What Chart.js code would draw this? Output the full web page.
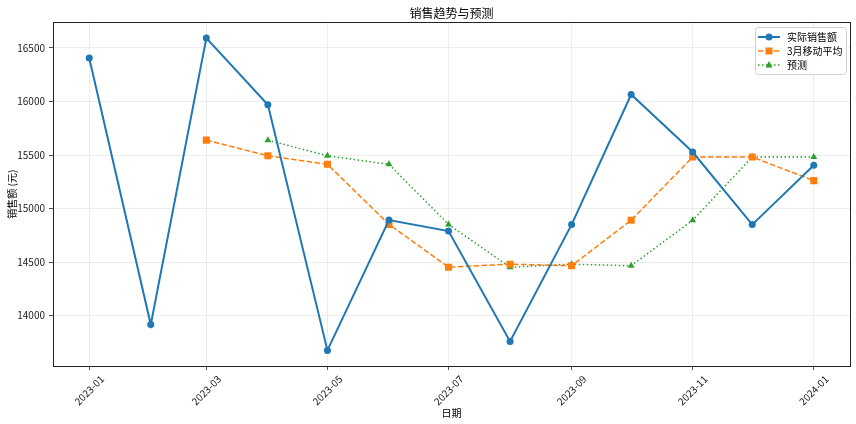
<!DOCTYPE html>
<html>
<head>
<meta charset="utf-8">
<script src="https://cdn.jsdelivr.net/npm/chart.js@4"></script>
<style>
  body { margin: 0; background: #fff; }
</style>
</head>
<body>
<canvas id="chart" width="856" height="424"></canvas>
<script>
let months = ['2023-01', '2023-02', '2023-03', '2023-04', '2023-05', '2023-06', '2023-07',
	'2023-08', '2023-09', '2023-10', '2023-11', '2023-12', '2024-01'];
let actualSales = [16407, 13916, 16593, 15970, 13675, 14892, 14790, 13758, 14850, 16065, 15528, 14850, 15405];
let movingAvg = [null, null, 15639, 15493, 15413, 14852, 14452, 14480, 14466, 14891, 15481, 15481, 15261];
let forecast = [null, null, null, 15639, 15493, 15413, 14852, 14452, 14480, 14466, 14891, 15481, 15481];
let xTickLabels = ['2023-01', '2023-03', '2023-05', '2023-07', '2023-09', '2023-11', '2024-01'];
let yTickValues = [14000, 14500, 15000, 15500, 16000, 16500];

const FONT = '"Noto Sans CJK SC", "DejaVu Sans", sans-serif';
const DAY = 86400000;
let start = Date.UTC(2023, 0, 1);
// month label -> days since 2023-01-01 (dates are real time on the x axis)
let toDays = (m) => {
	let [y, mo] = m.split('-').map(Number);
	return (Date.UTC(y, mo - 1, 1) - start) / DAY;
};
let series = (vals) => vals.map((v, i) => ({ x: toDays(months[i]), y: v }));
let span = toDays(months[months.length - 1]) - toDays(months[0]);

let yMin = Math.min(...actualSales), yMax = Math.max(...actualSales);
let yPad = (yMax - yMin) * 0.05;

let legendItems = [
	{ label: '实际销售额', color: '#1f77b4', dash: [], width: 2, marker: 'circle' },
	{ label: '3月移动平均', color: '#ff7f0e', dash: [5.5, 2.4], width: 1.5, marker: 'rect' },
	{ label: '预测', color: '#2ca02c', dash: [1.5, 2.5], width: 1.5, marker: 'triangle' },
];

const framePlugin = {
	id: 'frame',
	afterDraw(chart) {
		let { ctx, chartArea: a } = chart;
		ctx.save();
		ctx.strokeStyle = '#222';
		ctx.lineWidth = 1;
		ctx.strokeRect(Math.round(a.left) + 0.5, Math.round(a.top) + 0.5,
			Math.round(a.right - a.left), Math.round(a.bottom - a.top));

		// legend, upper right inside the axes
		let bx = 755, by = 27, bw = 91, bh = 47;
		ctx.fillStyle = 'rgba(255,255,255,0.85)';
		ctx.strokeStyle = '#d0d0d0';
		ctx.beginPath();
		ctx.roundRect(bx + 0.5, by + 0.5, bw, bh, 3);
		ctx.fill();
		ctx.stroke();
		legendItems.forEach((it, i) => {
			let y = by + 10 + i * 14;
			ctx.strokeStyle = it.color;
			ctx.lineWidth = it.width;
			ctx.setLineDash(it.dash);
			ctx.beginPath();
			ctx.moveTo(758, y);
			ctx.lineTo(780, y);
			ctx.stroke();
			ctx.setLineDash([]);
			ctx.fillStyle = it.color;
			ctx.beginPath();
			let cx = 769;
			if (it.marker === 'circle') ctx.arc(cx, y, 3.5, 0, Math.PI * 2);
			else if (it.marker === 'rect') ctx.rect(cx - 3.5, y - 3.5, 7, 7);
			else { ctx.moveTo(cx, y - 4); ctx.lineTo(cx + 3.5, y + 2.5); ctx.lineTo(cx - 3.5, y + 2.5); ctx.closePath(); }
			ctx.fill();
			ctx.fillStyle = '#000';
			ctx.font = '10px ' + FONT;
			ctx.textBaseline = 'middle';
			ctx.textAlign = 'left';
			ctx.fillText(it.label, 787, y);
		});
		ctx.restore();
	},
};

let ctx = document.getElementById('chart').getContext('2d');
let chart = new Chart(ctx, {
	type: 'line',
	data: {
		datasets: [{
			label: '实际销售额',
			data: series(actualSales),
			borderColor: '#1f77b4',
			backgroundColor: '#1f77b4',
			borderWidth: 2,
			pointStyle: 'circle',
			pointRadius: 3.5,
			pointBorderWidth: 0,
		}, {
			label: '3月移动平均',
			data: series(movingAvg),
			borderColor: '#ff7f0e',
			backgroundColor: '#ff7f0e',
			borderWidth: 1.5,
			borderDash: [5.5, 2.4],
			pointStyle: 'rect',
			pointRadius: 5,
			pointBorderWidth: 0,
			spanGaps: false,
		}, {
			label: '预测',
			data: series(forecast),
			borderColor: '#2ca02c',
			backgroundColor: '#2ca02c',
			borderWidth: 1.5,
			borderDash: [1.5, 2.5],
			pointStyle: 'triangle',
			pointRadius: 4,
			pointBorderWidth: 0,
		}],
	},
	options: {
		responsive: false,
		animation: false,
		devicePixelRatio: 1,
		layout: { padding: { left: 0, right: 6, top: 0, bottom: 0 } },
		elements: { line: { tension: 0 } },
		plugins: {
			legend: { display: false },
			tooltip: { enabled: false },
			title: {
				display: true,
				text: '销售趋势与预测',
				fullSize: false,
				color: '#000',
				font: { family: FONT, size: 12, weight: 'normal' },
				padding: { top: 6, bottom: 2 },
			},
		},
		scales: {
			x: {
				type: 'linear',
				min: -span * 0.05,
				max: span * 1.05,
				afterBuildTicks: (axis) => {
					axis.ticks = xTickLabels.map(l => ({ value: toDays(l) }));
				},
				afterFit: (axis) => { axis.height = 58; },
				ticks: {
					callback: (v) => xTickLabels.find(l => toDays(l) === v) || '',
					minRotation: 45,
					maxRotation: 45,
					labelOffset: 13,
					padding: 3,
					color: '#222',
					font: { family: FONT, size: 10 },
				},
				grid: { color: '#e8e8e8', lineWidth: 0.8, tickColor: '#222', tickLength: 4 },
				border: { color: '#222' },
				title: {
					display: true,
					text: '日期',
					color: '#000',
					font: { family: FONT, size: 10 },
					padding: { top: 0, bottom: 5 },
				},
			},
			y: {
				min: yMin - yPad,
				max: yMax + yPad,
				afterBuildTicks: (axis) => {
					axis.ticks = yTickValues.map(v => ({ value: v }));
				},
				afterFit: (axis) => { axis.width = 53; },
				ticks: {
					callback: (v) => String(v),
					color: '#222',
					padding: 4,
					font: { family: FONT, size: 10 },
				},
				grid: { color: '#e8e8e8', lineWidth: 0.8, tickColor: '#222', tickLength: 4 },
				border: { color: '#222' },
				title: {
					display: true,
					text: '销售额 (元)',
					color: '#000',
					font: { family: FONT, size: 10 },
					padding: { top: 6, bottom: 2 },
				},
			},
		},
	},
	plugins: [framePlugin],
});
</script>
</body>
</html>
